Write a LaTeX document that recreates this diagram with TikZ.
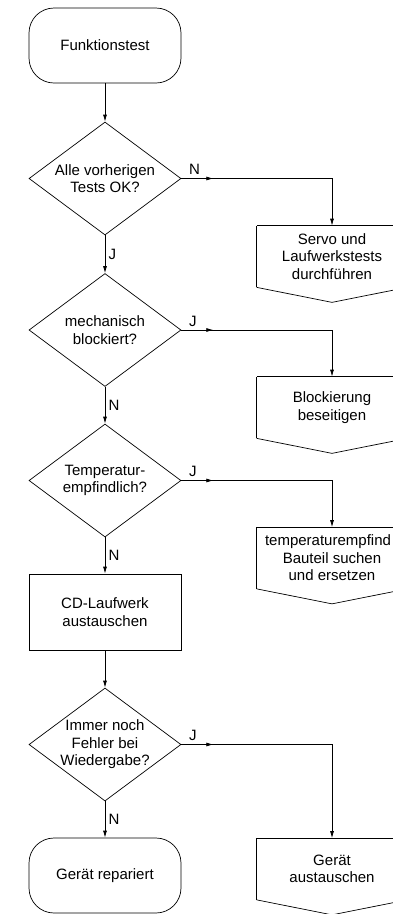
\documentclass[tikz,border=0pt]{standalone}
\usepackage{fontspec}
\setmainfont{Liberation Sans}
\usetikzlibrary{shapes.geometric,arrows.meta,decorations.markings}

\tikzset{
  pfeil/.style={-{Latex[length=7pt,width=4pt]}},
  mitte/.style={postaction={decorate},
    decoration={markings, mark=at position 32pt with {\arrow{Latex[length=7pt,width=4pt]}}}},
  terminal/.style={rectangle, draw, rounded corners=25pt, minimum width=152pt,
    minimum height=75pt, align=center},
  anweisung/.style={rectangle, draw, minimum width=152pt, minimum height=76pt, align=center},
  entscheidung/.style={diamond, draw, aspect=1.35, inner sep=-5pt, minimum width=152pt,
    minimum height=113pt, align=center},
  aktion/.style={rectangle, minimum width=150pt, minimum height=61pt, inner sep=0pt, align=center,
    append after command={
      (\tikzlastnode.north west) edge (\tikzlastnode.north east)
      (\tikzlastnode.north east) edge (\tikzlastnode.south east)
      (\tikzlastnode.south east) edge ([yshift=-15pt]\tikzlastnode.south)
      ([yshift=-15pt]\tikzlastnode.south) edge (\tikzlastnode.south west)
      (\tikzlastnode.south west) edge (\tikzlastnode.north west)}},
  antwort/.style={pos=0, anchor=south west, xshift=4pt}
}

\begin{document}
\begin{tikzpicture}[x=1pt, y=-1pt, line width=0.7pt,
    every node/.style={font=\fontsize{15}{17.5}\selectfont}]
    \useasboundingbox (0,0) rectangle (392,914);

    % linke Spalte
    \node[terminal] (funktest) at (105,45.5) {Funktionstest};
    \node[entscheidung] (tests) at (105,178.5) {Alle vorherigen\\Tests OK?};
    \node[entscheidung] (mech) at (105,330) {mechanisch\\blockiert?};
    \node[entscheidung] (temp) at (105,480.5) {Temperatur-\\empfindlich?};
    \node[anweisung] (cdlw) at (105,612) {CD-Laufwerk\\austauschen};
    \node[entscheidung] (fehler) at (105,744.5) {Immer noch\\Fehler bei\\Wiedergabe?};
    \node[terminal] (repariert) at (105,875.5) {Gerät repariert};

    % rechte Spalte
    \node[aktion] (servo) at (332,256.5) {Servo und\\Laufwerkstests\\durchführen};
    \node[aktion] (block) at (332,407.5) {Blockierung\\beseitigen};
    \node[aktion] (bauteil) at (332,558) {temperaturempfind\hspace*{8pt}\\Bauteil suchen\\und ersetzen};
    \node[aktion] (geraet) at (332,869) {Gerät\\austauschen};

    \draw[pfeil] (funktest) -- (tests);
    \draw[pfeil] (tests) -- node[right] {J} (mech);
    \draw[pfeil] (mech) -- node[right] {N} (temp);
    \draw[pfeil] (temp) -- node[right] {N} (cdlw);
    \draw[pfeil] (cdlw) -- (fehler);
    \draw[pfeil] (fehler) -- node[right] {N} (repariert);

    \draw[pfeil, mitte] (tests.east) -| node[antwort] {N} (servo.north);
    \draw[pfeil, mitte] (mech.east) -| node[antwort] {J} (block.north);
    \draw[pfeil, mitte] (temp.east) -| node[antwort] {J} (bauteil.north);
    \draw[pfeil, mitte] (fehler.east) -| node[antwort] {J} (geraet.north);
\end{tikzpicture}
\end{document}
